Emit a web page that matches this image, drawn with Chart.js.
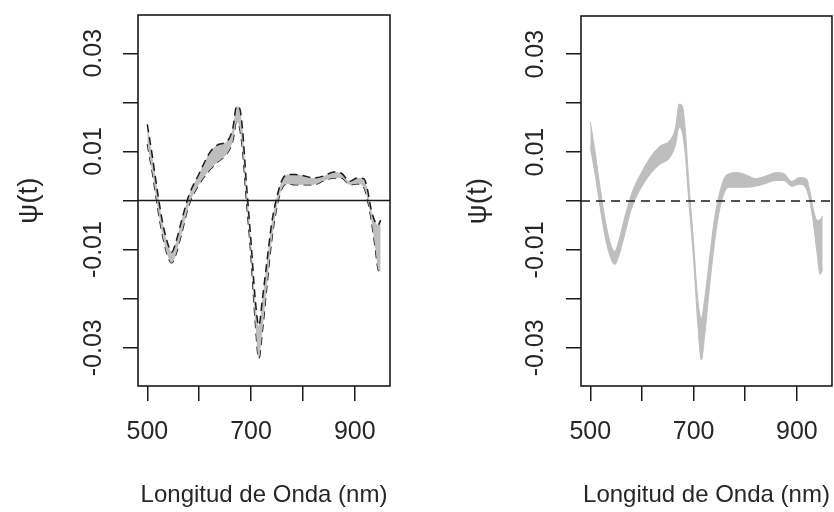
<!DOCTYPE html>
<html>
<head>
<meta charset="utf-8">
<script src="https://cdn.jsdelivr.net/npm/chart.js@4.4.1/dist/chart.umd.min.js"></script>
<style>
  html, body { margin: 0; padding: 0; background: #ffffff; overflow: hidden; }
  #wrap { position: relative; width: 834px; height: 512px; }
  canvas { position: absolute; top: 0; }
  #c1 { left: 0; }
  #c2 { left: 417px; }
</style>
</head>
<body>
<div id="wrap">
  <canvas id="c1" width="417" height="512"></canvas>
  <canvas id="c2" width="417" height="512"></canvas>
</div>
<script>
// ---- data ----
const wavelengths = [500,510,520,530,540,547,555,565,580,600,620,635,655,665,672,678,684,690,700,708,715,722,730,740,750,760,770,785,800,820,840,860,875,890,905,918,925,932,940,945,950];

const leftUpper = [0.0155,0.0088,0.0015,-0.0048,-0.0090,-0.0105,-0.0085,-0.0045,0.0010,0.0055,0.0097,0.0113,0.0122,0.0148,0.0192,0.0188,0.0140,0.0050,-0.0085,-0.0200,-0.0255,-0.0200,-0.0130,-0.0045,0.0008,0.0042,0.0053,0.0053,0.0051,0.0046,0.0050,0.0058,0.0055,0.0039,0.0046,0.0044,0.0020,-0.0020,-0.0045,-0.0050,-0.0040];
const leftLower = [0.0115,0.0055,-0.0015,-0.0075,-0.0115,-0.0127,-0.0110,-0.0072,-0.0010,0.0033,0.0062,0.0078,0.0098,0.0122,0.0160,0.0148,0.0100,0.0015,-0.0115,-0.0245,-0.0322,-0.0265,-0.0180,-0.0080,-0.0012,0.0025,0.0034,0.0032,0.0032,0.0032,0.0040,0.0046,0.0046,0.0032,0.0034,0.0026,0.0000,-0.0040,-0.0100,-0.0140,-0.0145];

const rightUpper = [0.0162,0.0095,0.0020,-0.0045,-0.0090,-0.0103,-0.0082,-0.0040,0.0015,0.0060,0.0095,0.0112,0.0125,0.0150,0.0198,0.0195,0.0145,0.0050,-0.0085,-0.0200,-0.0240,-0.0195,-0.0125,-0.0040,0.0015,0.0048,0.0056,0.0058,0.0054,0.0046,0.0051,0.0058,0.0056,0.0040,0.0048,0.0046,0.0022,-0.0018,-0.0040,-0.0038,-0.0030];
const rightLower = [0.0110,0.0050,-0.0020,-0.0080,-0.0118,-0.0130,-0.0113,-0.0075,-0.0015,0.0030,0.0060,0.0075,0.0090,0.0115,0.0150,0.0140,0.0095,0.0010,-0.0120,-0.0250,-0.0325,-0.0270,-0.0185,-0.0090,-0.0020,0.0018,0.0028,0.0028,0.0028,0.0030,0.0036,0.0042,0.0042,0.0030,0.0034,0.0025,0.0000,-0.0045,-0.0115,-0.0150,-0.0140];

const xTickValues = [500,600,700,800,900];
const xTickLabels = ['500','','700','','900'];
const yTickValues = [-0.03,-0.02,-0.01,0,0.01,0.02,0.03];
const yTickLabels = ['-0.03','','-0.01','','0.01','','0.03'];
const xRange = [482, 968];
const yRange = [-0.0378, 0.0378];
const xTitle = 'Longitud de Onda (nm)';
const yTitle = 'ψ(t)';

// ---- drawing ----
const FONT = 'Liberation Sans, Arial, Helvetica, sans-serif';
const INK = '#1a1a1a';
const TXT = '#262626';
const BAND = '#bebebe';

const pts = (ys) => wavelengths.map((w, i) => ({x: w, y: ys[i]}));

const framePlugin = {
  id: 'frame',
  afterDatasetsDraw(chart, args, opts) {
    const {ctx, chartArea: a, scales} = chart;
    const y0 = scales.y.getPixelForValue(0);
    ctx.save();
    ctx.beginPath();
    ctx.rect(a.left, a.top, a.right - a.left, a.bottom - a.top);
    ctx.clip();
    ctx.strokeStyle = INK;
    ctx.lineWidth = 1.5;
    ctx.setLineDash(opts.zeroDash || []);
    ctx.beginPath();
    ctx.moveTo(a.left, y0);
    ctx.lineTo(a.right, y0);
    ctx.stroke();
    ctx.restore();
    ctx.save();
    ctx.strokeStyle = INK;
    ctx.lineWidth = 1.6;
    ctx.strokeRect(a.left, a.top, a.right - a.left, a.bottom - a.top);
    ctx.restore();
  }
};

function makeChart(id, upper, lower, lineColor, lineDash, lineWidth, zeroDash, yAxisWidth, padRight, yTitlePad, yTickPad) {
  return new Chart(document.getElementById(id), {
    type: 'line',
    data: {
      datasets: [
        {
          data: pts(upper),
          borderColor: lineColor,
          borderDash: lineDash,
          borderWidth: lineWidth,
          backgroundColor: BAND,
          fill: '+1',
          pointRadius: 0,
          tension: 0,
          cubicInterpolationMode: 'monotone'
        },
        {
          data: pts(lower),
          borderColor: lineColor,
          borderDash: lineDash,
          borderWidth: lineWidth,
          fill: false,
          pointRadius: 0,
          tension: 0,
          cubicInterpolationMode: 'monotone'
        }
      ]
    },
    options: {
      responsive: false,
      animation: false,
      devicePixelRatio: 1,
      layout: { padding: { left: 0, right: padRight, top: 11, bottom: 0 } },
      plugins: {
        legend: { display: false },
        tooltip: { enabled: false },
        frame: { zeroDash: zeroDash }
      },
      scales: {
        x: {
          type: 'linear',
          min: xRange[0],
          max: xRange[1],
          afterBuildTicks: (s) => { s.ticks = xTickValues.map(v => ({value: v})); },
          afterFit: (s) => { s.height = 126; },
          border: { display: false },
          grid: { drawOnChartArea: false, drawTicks: true, tickLength: 15, color: INK, lineWidth: 1.5 },
          ticks: {
            autoSkip: false,
            maxRotation: 0,
            padding: 16,
            color: TXT,
            font: { family: FONT, size: 25 },
            callback: (v, i) => xTickLabels[i]
          },
          title: {
            display: true,
            text: xTitle,
            color: TXT,
            font: { family: FONT, size: 24 },
            padding: { top: 0, bottom: 2 }
          }
        },
        y: {
          type: 'linear',
          min: yRange[0],
          max: yRange[1],
          afterBuildTicks: (s) => { s.ticks = yTickValues.map(v => ({value: v})); },
          afterFit: (s) => { s.width = yAxisWidth; },
          border: { display: false },
          grid: { drawOnChartArea: false, drawTicks: true, tickLength: 15, color: INK, lineWidth: 1.5 },
          ticks: {
            autoSkip: false,
            minRotation: 90,
            maxRotation: 90,
            crossAlign: 'center',
            padding: yTickPad,
            color: TXT,
            font: { family: FONT, size: 25 },
            callback: (v, i) => yTickLabels[i]
          },
          title: {
            display: true,
            text: yTitle,
            color: TXT,
            font: { family: FONT, size: 28 },
            padding: { top: yTitlePad, bottom: 0 }
          }
        }
      }
    },
    plugins: [framePlugin]
  });
}

makeChart('c1', leftUpper, leftLower, INK, [8, 5], 1.5, [], 138, 27, 12, 0);
makeChart('c2', rightUpper, rightLower, BAND, [], 1, [9, 6], 164, 2, 44, 1);
</script>
</body>
</html>
